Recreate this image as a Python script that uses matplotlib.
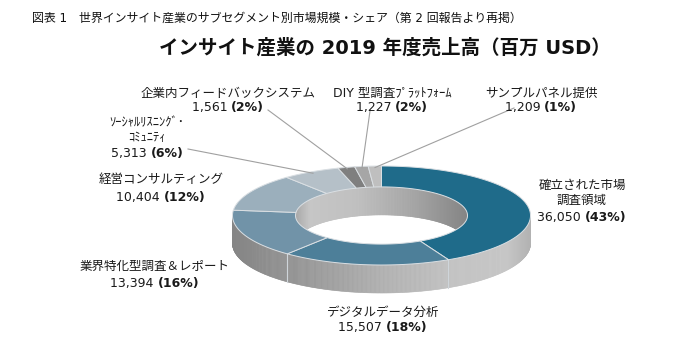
import numpy as np
import matplotlib
matplotlib.use('Agg')
import matplotlib.pyplot as plt
from matplotlib.collections import PolyCollection
from matplotlib.patches import Polygon
from matplotlib.colors import LinearSegmentedColormap

plt.rcParams['font.family'] = ['DejaVu Sans', 'Noto Sans CJK JP']

# ---------------- data ----------------
categories = ['確立された市場\n調査領域', 'デジタルデータ分析', '業界特化型調査＆レポート',
              '経営コンサルティング', 'ｿｰｼｬﾙﾘｽﾆﾝｸﾞ･\nｺﾐｭﾆﾃｨ', '企業内フィードバックシステム',
              'DIY 型調査ﾌﾟﾗｯﾄﾌｫｰﾑ', 'サンプルパネル提供']
values = [36050, 15507, 13394, 10404, 5313, 1561, 1227, 1209]
value_labels = ['36,050', '15,507', '13,394', '10,404', '5,313', '1,561', '1,227', '1,209']
pct_labels = ['(43%)', '(18%)', '(16%)', '(12%)', '(6%)', '(2%)', '(2%)', '(1%)']
colors = ['#1f6b8a', '#4d7f99', '#7193a8', '#9bafbc', '#b5c0c8', '#7f7f7f', '#a6a6a6', '#bfbfbf']
title = 'インサイト産業の 2019 年度売上高（百万 USD）'
caption = '図表 1　世界インサイト産業のサブセグメント別市場規模・シェア（第 2 回報告より再掲）'

# ---------------- layout ----------------
W, H = 690, 350
fig = plt.figure(figsize=(W / 100, H / 100), dpi=100)
ax = fig.add_axes([0, 0, 1, 1])
ax.set_xlim(0, W)
ax.set_ylim(H, 0)
ax.axis('off')

cx, cy = 381.5, 215.5
ao, bo = 149.0, 49.5
ai, bi = 86.0, 28.6
depth = 28.0


def ell(theta_deg, a, b, y0):
    th = np.radians(theta_deg)
    return cx + a * np.sin(th), y0 - b * np.cos(th)


vals = np.asarray(values, dtype=float)
angles = np.concatenate([[0.0], np.cumsum(vals) / vals.sum() * 360.0])

# outer side wall (front half)
side_cmap = LinearSegmentedColormap.from_list(
    'side', [(0, '#858585'), (0.25, '#989898'), (0.5, '#b0b0b0'),
             (0.75, '#c3c3c3'), (0.92, '#c6c6c6'), (1, '#b2b2b2')])
th = np.linspace(90, 270, 361)
polys, cols = [], []
for t1, t2 in zip(th[:-1], th[1:]):
    x1, y1 = ell(t1, ao, bo, cy)
    x2, y2 = ell(t2, ao, bo, cy)
    polys.append([(x1, y1), (x2, y2), (x2, y2 + depth), (x1, y1 + depth)])
    cols.append(side_cmap(((x1 + x2) / 2 - (cx - ao)) / (2 * ao)))
ax.add_collection(PolyCollection(polys, facecolors=cols, edgecolors=cols, linewidths=0.4, zorder=1))
for a in angles[1:-1]:
    if 90 < a < 270:
        x, y = ell(a, ao, bo, cy)
        ax.plot([x, x], [y, y + depth], color='#cfd5da', lw=0.8, zorder=2)

# inner wall (back half)
inner_cmap = LinearSegmentedColormap.from_list(
    'inner', [(0, '#a8a8a8'), (0.08, '#c6c6c6'), (0.35, '#c0c0c0'),
              (0.7, '#a4a4a4'), (1, '#858585')])
th = np.linspace(-90, 90, 361)
polys, cols = [], []
for t1, t2 in zip(th[:-1], th[1:]):
    x1, y1 = ell(t1, ai, bi, cy)
    x2, y2 = ell(t2, ai, bi, cy)
    polys.append([(x1, y1), (x2, y2), (x2, y2 + depth), (x1, y1 + depth)])
    cols.append(inner_cmap(((x1 + x2) / 2 - (cx - ai)) / (2 * ai)))
ax.add_collection(PolyCollection(polys, facecolors=cols, edgecolors=cols, linewidths=0.4, zorder=1))

# top face
for i, c in enumerate(colors):
    s, e = angles[i], angles[i + 1]
    t = np.linspace(s, e, max(int((e - s) * 2), 4))
    xo, yo = ell(t, ao, bo, cy)
    xi, yi = ell(t[::-1], ai, bi, cy)
    pts = np.column_stack([np.concatenate([xo, xi]), np.concatenate([yo, yi])])
    ax.add_patch(Polygon(pts, closed=True, facecolor=c, edgecolor='#dadfe3', lw=0.7, zorder=3))

# ---------------- labels ----------------
renderer = fig.canvas.get_renderer()
fs = 9


def value_line(x, y, v, p):
    t1 = ax.text(0, y, v + ' ', fontsize=fs, ha='left', va='center', color='#1a1a1a', zorder=5)
    t2 = ax.text(0, y, p, fontsize=fs, ha='left', va='center', weight='bold', color='#1a1a1a', zorder=5)
    w1 = t1.get_window_extent(renderer).width
    w2 = t2.get_window_extent(renderer).width
    x0 = x - (w1 + w2) / 2
    t1.set_x(x0)
    t2.set_x(x0 + w1)


label_pos = [(582, [185, 200], 217), (383, [312], 328), (155, [266], 283),
             (161, [180], 197), (147, [123, 138], 154), (228, [93], 108),
             (392, [93], 108), (541, [93], 108)]
for i, (x, ys, yv) in enumerate(label_pos):
    for line, y in zip(categories[i].split('\n'), ys):
        ax.text(x, y, line, fontsize=fs, ha='center', va='center', color='#1a1a1a', zorder=5)
    value_line(x, yv, value_labels[i], pct_labels[i])

# leader lines
leader_start = {4: (188, 149), 5: (268, 110), 6: (370, 111), 7: (514, 108)}
for i, (sx, sy) in leader_start.items():
    mid = (angles[i] + angles[i + 1]) / 2
    ex, ey = ell(mid, ao * 0.97, bo * 0.97, cy)
    ax.plot([sx, ex], [sy, ey], color='#a0a0a0', lw=0.8, zorder=4)

ax.text(385, 48, title, fontsize=14, weight='bold', ha='center', va='center', color='#111111')
ax.text(32, 18, caption, fontsize=8.6, ha='left', va='center', color='#111111')

fig.savefig('out.png', dpi=100, facecolor='white')
